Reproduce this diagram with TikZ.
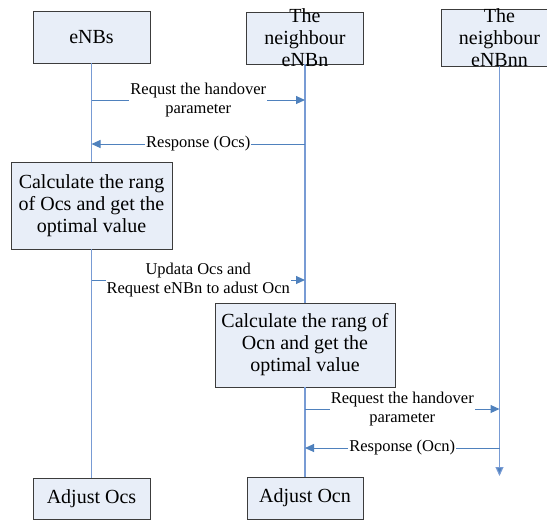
\documentclass[tikz,border=0pt]{standalone}
\usepackage{fontspec}
\setmainfont{Liberation Serif}
\usetikzlibrary{arrows.meta}

\definecolor{boxfill}{RGB}{232,238,248}
\definecolor{boxline}{RGB}{60,60,60}
\definecolor{lifeblue}{RGB}{120,155,212}
\definecolor{msgblue}{RGB}{79,129,189}

\begin{document}
\begin{tikzpicture}[x=1pt, y=-1pt,
    actor/.style={draw=boxline, fill=boxfill, line width=0.8pt, minimum width=117pt, minimum height=52pt, inner sep=0pt, font=\fontsize{20}{22}\selectfont},
    actortext/.style={align=center, inner sep=0pt, font=\fontsize{20}{22}\selectfont},
    calcbox/.style={draw=boxline, fill=boxfill, line width=0.8pt, align=center, inner sep=0pt, font=\fontsize{20}{22}\selectfont},
    lifeline/.style={draw=lifeblue, line width=1.1pt},
    msg/.style={draw=msgblue, line width=1pt, -{Triangle[length=9pt,width=8pt]}},
    msglabel/.style={fill=white, align=center, inner xsep=1pt, inner ysep=0pt, font=\fontsize{16.5}{18.5}\selectfont}]
    \useasboundingbox (0,0) rectangle (547,520);

    % heads
    \node[actor] (eNBs) at (91.5,37) {eNBs};
    \node[actor] (eNBn) at (305,38) {};
    \node[actor, minimum height=57pt] (eNBnn) at (499.5,37.5) {};

    % calculation and adjust boxes
    \node[calcbox, minimum width=161pt, minimum height=87pt] (calcOcs) at (91.5,205.5)
        {Calculate the rang\\of Ocs and get the\\optimal value};
    \node[calcbox, minimum width=180pt, minimum height=84pt] (calcOcn) at (305,345)
        {Calculate the rang of\\Ocn and get the\\optimal value};
    \node[actor, minimum height=41pt] (adjOcs) at (91.5,498.5) {Adjust Ocs};
    \node[actor, minimum width=116pt, minimum height=42pt] (adjOcn) at (305,498) {Adjust Ocn};

    % lifelines
    \coordinate (nnend) at (499.5,476);
    \draw[lifeline] (eNBs.south) -- (calcOcs.north);
    \draw[lifeline] (calcOcs.south) -- (adjOcs.north);
    \draw[lifeline] (eNBn.south) -- (calcOcn.north);
    \draw[lifeline] (calcOcn.south) -- (adjOcn.north);
    \draw[lifeline, -{Triangle[length=9pt,width=8pt,fill=msgblue]}] (eNBnn.south) -- (nnend);

    \node[actortext] at (eNBn) {The\\neighbour\\eNBn};
    \node[actortext] at (eNBnn) {The\\neighbour\\eNBnn};

    % messages
    \coordinate (s1) at (eNBs |- 0,100);
    \coordinate (n1) at (eNBn |- 0,100);
    \coordinate (s2) at (eNBs |- 0,144);
    \coordinate (n2) at (eNBn |- 0,144);
    \coordinate (s3) at (eNBs |- 0,280);
    \coordinate (n3) at (eNBn |- 0,280);
    \coordinate (n4) at (eNBn |- 0,409);
    \coordinate (nn4) at (eNBnn |- 0,409);
    \coordinate (n5) at (eNBn |- 0,448);
    \coordinate (nn5) at (eNBnn |- 0,448);

    \draw[msg] (s1) -- (n1) node[msglabel, midway] {Requst the handover\\parameter};
    \draw[msg] (n2) -- (s2) node[msglabel, midway] {Response (Ocs)};
    \draw[msg] (s3) -- (n3) node[msglabel, midway] {Updata Ocs and\\Request eNBn to adust Ocn};
    \draw[msg] (n4) -- (nn4) node[msglabel, midway] {Request the handover\\parameter};
    \draw[msg] (nn5) -- (n5) node[msglabel, midway] {Response (Ocn)};
\end{tikzpicture}
\end{document}
